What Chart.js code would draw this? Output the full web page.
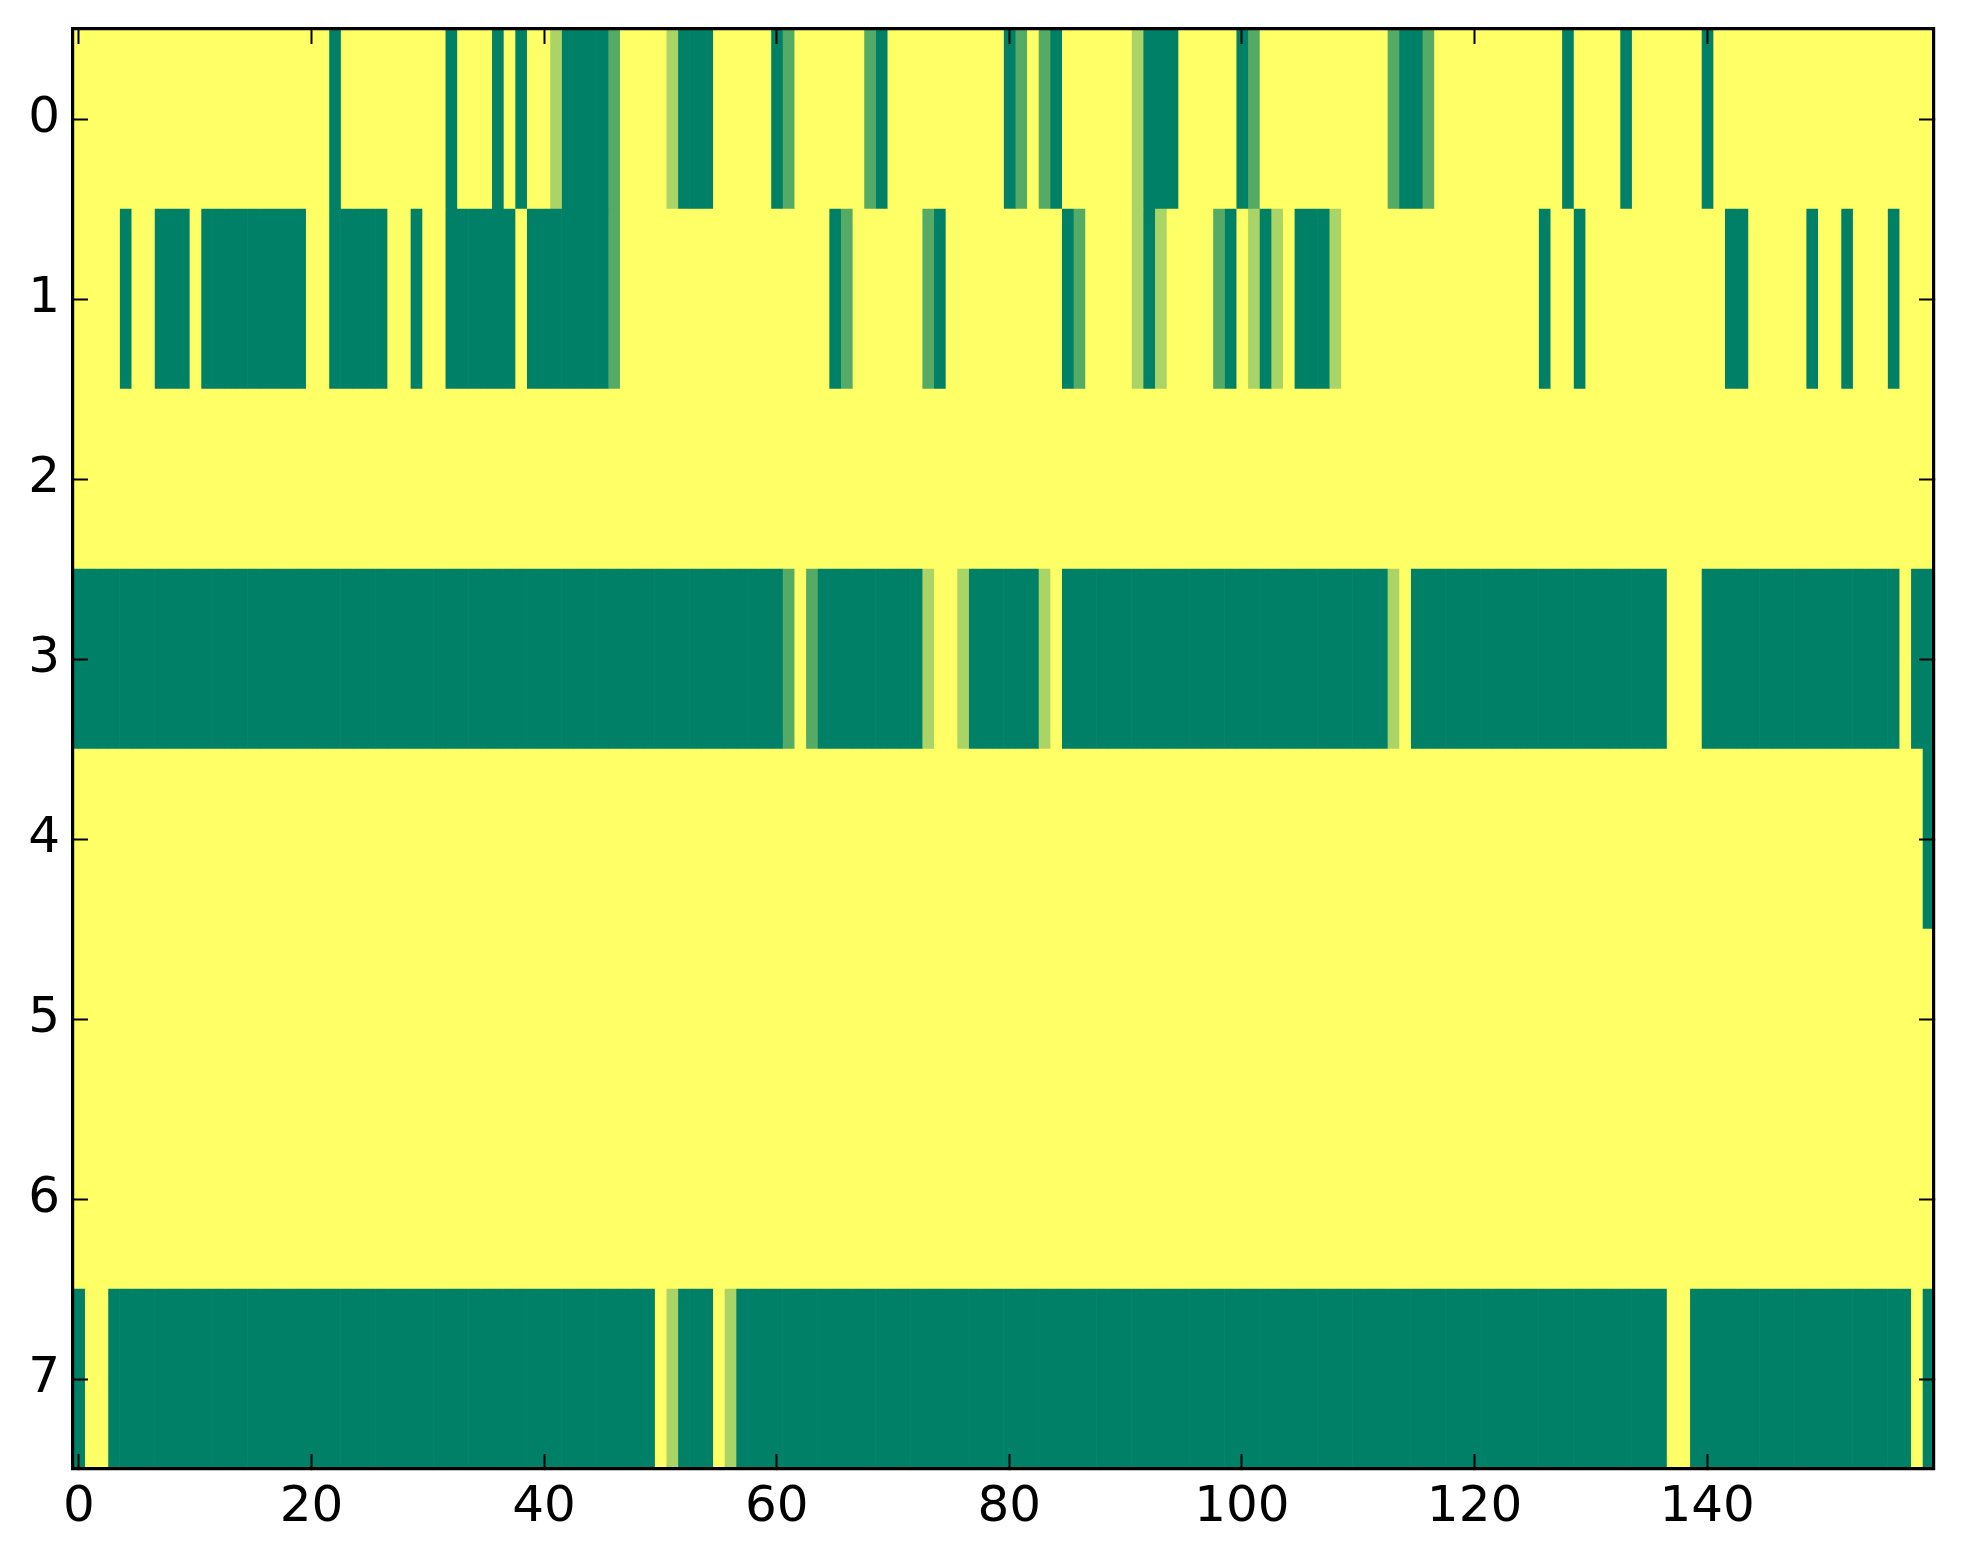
<!DOCTYPE html>
<html>
<head>
<meta charset="utf-8">
<script src="https://cdn.jsdelivr.net/npm/chart.js@4.4.0/dist/chart.umd.min.js"></script>
<style>
html, body { margin: 0; padding: 0; background: #ffffff; overflow: hidden; }
canvas { display: block; }
</style>
</head>
<body>
<canvas id="c" width="1963" height="1564"></canvas>
<script>
// Row labels (y axis, top to bottom) and x tick labels
const rowLabels = ['0', '1', '2', '3', '4', '5', '6', '7'];
const xTickValues = [0, 20, 40, 60, 80, 100, 120, 140];

// Cell values in thirds: 0 -> 0.0, 1 -> 0.333, 2 -> 0.667, 3 -> 1.0 (160 columns per row)
const row0 = [
  3,3,3,3,3,3,3,3,3,3,  3,3,3,3,3,3,3,3,3,3,  3,3,0,3,3,3,3,3,3,3,  3,3,0,3,3,3,0,3,0,3,
  3,2,0,0,0,0,1,3,3,3,  3,2,0,0,0,3,3,3,3,3,  0,1,3,3,3,3,3,3,1,0,  3,3,3,3,3,3,3,3,3,3,
  0,1,3,1,0,3,3,3,3,3,  3,2,0,0,0,3,3,3,3,3,  0,1,3,3,3,3,3,3,3,3,  3,3,3,1,0,0,1,3,3,3,
  3,3,3,3,3,3,3,3,0,3,  3,3,3,0,3,3,3,3,3,3,  0,3,3,3,3,3,3,3,3,3,  3,3,3,3,3,3,3,3,3,3
];
const row1 = [
  3,3,3,3,0,3,3,0,0,0,  3,0,0,0,0,0,0,0,0,0,  3,3,0,0,0,0,0,3,3,0,  3,3,0,0,0,0,0,0,3,0,
  0,0,0,0,0,0,1,3,3,3,  3,3,3,3,3,3,3,3,3,3,  3,3,3,3,3,0,1,3,3,3,  3,3,3,1,0,3,3,3,3,3,
  3,3,3,3,3,0,1,3,3,3,  3,2,0,2,3,3,3,3,1,0,  3,2,0,2,3,0,0,0,2,3,  3,3,3,3,3,3,3,3,3,3,
  3,3,3,3,3,3,0,3,3,0,  3,3,3,3,3,3,3,3,3,3,  3,3,0,0,3,3,3,3,3,0,  3,3,0,3,3,3,0,3,3,3
];
const row2 = [
  3,3,3,3,3,3,3,3,3,3,  3,3,3,3,3,3,3,3,3,3,  3,3,3,3,3,3,3,3,3,3,  3,3,3,3,3,3,3,3,3,3,
  3,3,3,3,3,3,3,3,3,3,  3,3,3,3,3,3,3,3,3,3,  3,3,3,3,3,3,3,3,3,3,  3,3,3,3,3,3,3,3,3,3,
  3,3,3,3,3,3,3,3,3,3,  3,3,3,3,3,3,3,3,3,3,  3,3,3,3,3,3,3,3,3,3,  3,3,3,3,3,3,3,3,3,3,
  3,3,3,3,3,3,3,3,3,3,  3,3,3,3,3,3,3,3,3,3,  3,3,3,3,3,3,3,3,3,3,  3,3,3,3,3,3,3,3,3,3
];
const row3 = [
  0,0,0,0,0,0,0,0,0,0,  0,0,0,0,0,0,0,0,0,0,  0,0,0,0,0,0,0,0,0,0,  0,0,0,0,0,0,0,0,0,0,
  0,0,0,0,0,0,0,0,0,0,  0,0,0,0,0,0,0,0,0,0,  0,1,3,1,0,0,0,0,0,0,  0,0,0,2,3,3,2,0,0,0,
  0,0,0,2,3,0,0,0,0,0,  0,0,0,0,0,0,0,0,0,0,  0,0,0,0,0,0,0,0,0,0,  0,0,0,2,3,0,0,0,0,0,
  0,0,0,0,0,0,0,0,0,0,  0,0,0,0,0,0,0,3,3,3,  0,0,0,0,0,0,0,0,0,0,  0,0,0,0,0,0,0,3,0,0
];
const row4 = [
  3,3,3,3,3,3,3,3,3,3,  3,3,3,3,3,3,3,3,3,3,  3,3,3,3,3,3,3,3,3,3,  3,3,3,3,3,3,3,3,3,3,
  3,3,3,3,3,3,3,3,3,3,  3,3,3,3,3,3,3,3,3,3,  3,3,3,3,3,3,3,3,3,3,  3,3,3,3,3,3,3,3,3,3,
  3,3,3,3,3,3,3,3,3,3,  3,3,3,3,3,3,3,3,3,3,  3,3,3,3,3,3,3,3,3,3,  3,3,3,3,3,3,3,3,3,3,
  3,3,3,3,3,3,3,3,3,3,  3,3,3,3,3,3,3,3,3,3,  3,3,3,3,3,3,3,3,3,3,  3,3,3,3,3,3,3,3,3,0
];
const row5 = [
  3,3,3,3,3,3,3,3,3,3,  3,3,3,3,3,3,3,3,3,3,  3,3,3,3,3,3,3,3,3,3,  3,3,3,3,3,3,3,3,3,3,
  3,3,3,3,3,3,3,3,3,3,  3,3,3,3,3,3,3,3,3,3,  3,3,3,3,3,3,3,3,3,3,  3,3,3,3,3,3,3,3,3,3,
  3,3,3,3,3,3,3,3,3,3,  3,3,3,3,3,3,3,3,3,3,  3,3,3,3,3,3,3,3,3,3,  3,3,3,3,3,3,3,3,3,3,
  3,3,3,3,3,3,3,3,3,3,  3,3,3,3,3,3,3,3,3,3,  3,3,3,3,3,3,3,3,3,3,  3,3,3,3,3,3,3,3,3,3
];
const row6 = [
  3,3,3,3,3,3,3,3,3,3,  3,3,3,3,3,3,3,3,3,3,  3,3,3,3,3,3,3,3,3,3,  3,3,3,3,3,3,3,3,3,3,
  3,3,3,3,3,3,3,3,3,3,  3,3,3,3,3,3,3,3,3,3,  3,3,3,3,3,3,3,3,3,3,  3,3,3,3,3,3,3,3,3,3,
  3,3,3,3,3,3,3,3,3,3,  3,3,3,3,3,3,3,3,3,3,  3,3,3,3,3,3,3,3,3,3,  3,3,3,3,3,3,3,3,3,3,
  3,3,3,3,3,3,3,3,3,3,  3,3,3,3,3,3,3,3,3,3,  3,3,3,3,3,3,3,3,3,3,  3,3,3,3,3,3,3,3,3,3
];
const row7 = [
  0,3,3,0,0,0,0,0,0,0,  0,0,0,0,0,0,0,0,0,0,  0,0,0,0,0,0,0,0,0,0,  0,0,0,0,0,0,0,0,0,0,
  0,0,0,0,0,0,0,0,0,0,  3,2,0,0,0,3,2,0,0,0,  0,0,0,0,0,0,0,0,0,0,  0,0,0,0,0,0,0,0,0,0,
  0,0,0,0,0,0,0,0,0,0,  0,0,0,0,0,0,0,0,0,0,  0,0,0,0,0,0,0,0,0,0,  0,0,0,0,0,0,0,0,0,0,
  0,0,0,0,0,0,0,0,0,0,  0,0,0,0,0,0,0,3,3,0,  0,0,0,0,0,0,0,0,0,0,  0,0,0,0,0,0,0,0,3,0
];

const rows = [row0, row1, row2, row3, row4, row5, row6, row7];

// matplotlib "summer" colormap
function summer(v) {
  const t = v / 3;
  return 'rgb(' + Math.round(255 * t) + ',' + Math.round(255 * (0.5 + 0.5 * t)) + ',102)';
}

// one dataset per column: a floating horizontal bar for each row
const datasets = row0.map((_, col) => ({
  data: rows.map(() => [col - 0.5, col + 0.5]),
  backgroundColor: rows.map(r => summer(r[col])),
  borderWidth: 0,
  grouped: false,
  barPercentage: 1,
  categoryPercentage: 1
}));

Chart.defaults.font.family = 'DejaVu Sans';
Chart.defaults.color = '#000';

const gridOpts = {
  drawOnChartArea: false,
  drawTicks: true,
  tickLength: -15,
  tickWidth: 2,
  tickColor: '#000',
  z: 1
};
const borderOpts = { display: true, color: '#000', width: 3.2, z: 1 };
const setXTicks = s => { s.ticks = xTickValues.map(v => ({ value: v })); };
const noPad = s => { s.paddingTop = 0; s.paddingBottom = 0; s.paddingLeft = 0; s.paddingRight = 0; };

new Chart(document.getElementById('c'), {
  type: 'bar',
  data: { labels: rowLabels, datasets: datasets },
  options: {
    indexAxis: 'y',
    responsive: false,
    devicePixelRatio: 1,
    animation: false,
    events: [],
    layout: { padding: 0 },
    plugins: { legend: { display: false }, tooltip: { enabled: false } },
    scales: {
      x: {
        type: 'linear', position: 'bottom', min: -0.5, max: 159.5, stacked: false,
        afterBuildTicks: setXTicks,
        afterFit: s => { s.height = 95; noPad(s); },
        grid: Object.assign({}, gridOpts),
        border: Object.assign({}, borderOpts),
        ticks: { color: '#000', font: { size: 50 }, padding: 24, maxRotation: 0, autoSkip: false }
      },
      x2: {
        type: 'linear', position: 'top', min: -0.5, max: 159.5,
        afterBuildTicks: setXTicks,
        afterFit: s => { s.height = 29; noPad(s); },
        grid: Object.assign({}, gridOpts),
        border: Object.assign({}, borderOpts),
        ticks: { display: false }
      },
      y: {
        type: 'category', position: 'left', labels: rowLabels, offset: true,
        afterFit: s => { s.width = 73; noPad(s); },
        grid: Object.assign({ offset: false }, gridOpts),
        border: Object.assign({}, borderOpts),
        ticks: { color: '#000', font: { size: 50 }, padding: 28, autoSkip: false }
      },
      y2: {
        type: 'category', position: 'right', labels: rowLabels, offset: true,
        afterFit: s => { s.width = 29; noPad(s); },
        grid: Object.assign({ offset: false }, gridOpts),
        border: Object.assign({}, borderOpts),
        ticks: { display: false }
      }
    }
  }
});
</script>
</body>
</html>
